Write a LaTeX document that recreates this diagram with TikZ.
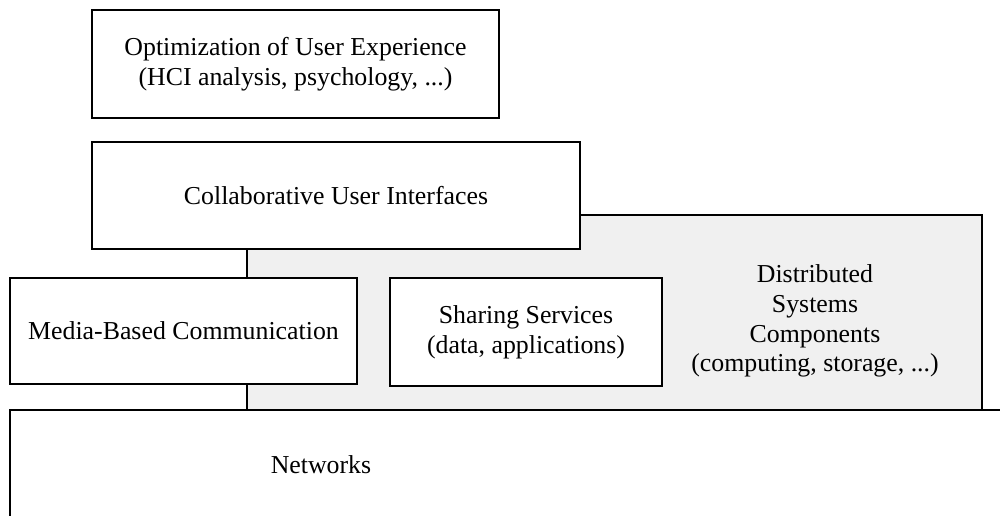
\documentclass[tikz,border=0pt]{standalone}
\usepackage{fontspec}
\setmainfont{Liberation Serif}
\newcommand{\fs}{\fontsize{14.7pt}{17pt}\selectfont}
\definecolor{distgray}{HTML}{F0F0F0}
\begin{document}
\begin{tikzpicture}[x=0.02cm,y=-0.02cm,
  box/.style={draw, line width=1.2pt, fill=white, inner sep=0pt, align=center, font=\fs},
  lbl/.style={inner sep=0pt, align=center, font=\fs},
  edge/.style={line width=1.2pt}]
\useasboundingbox (0,0) rectangle (1000,516);
\clip (0,0) rectangle (1000,516);
% distributed systems background
\draw[edge, fill=distgray] (247,215) rectangle (982,410);
% networks
\draw[edge, fill=white] (10,540) -- (10,410) -- (1020,410) -- (1020,540) -- cycle;
\node[lbl] (net) at (321,465) {Networks};
% boxes
\node[box, minimum width=8.14cm, minimum height=2.16cm] (ux) at (295.5,64)
  {Optimization of User Experience\\(HCI analysis, psychology, ...)};
\node[box, minimum width=9.76cm, minimum height=2.14cm] (cui) at (336,195.5)
  {Collaborative User Interfaces};
\node[box, minimum width=6.94cm, minimum height=2.12cm] (media) at (183.5,331)
  {Media-Based Communication};
\node[box, minimum width=5.44cm, minimum height=2.16cm] (share) at (526,332)
  {Sharing Services\\(data, applications)};
\node[lbl] (dist) at (815,321)
  {Distributed\\Systems\\Components\\(computing, storage, ...)};
% connectors
\coordinate (c1) at (247,410);
\draw[edge] (cui.south -| c1) -- (media.north -| c1);
\draw[edge] (media.south -| c1) -- (c1);
\end{tikzpicture}
\end{document}
